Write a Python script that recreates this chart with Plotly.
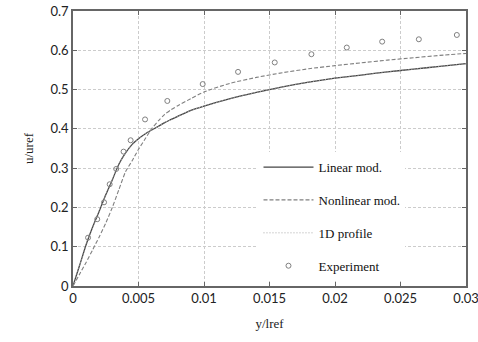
import plotly.graph_objects as go

x_model = [0, 0.0005, 0.001, 0.0015, 0.002, 0.0025, 0.003, 0.0035, 0.004, 0.0045,
           0.005, 0.0055, 0.006, 0.0065, 0.007, 0.0075, 0.008, 0.009, 0.01, 0.012,
           0.014, 0.016, 0.018, 0.02, 0.022, 0.024, 0.026, 0.028, 0.03]
linear_mod = [0, 0.052, 0.105, 0.15, 0.19, 0.232, 0.27, 0.31, 0.338, 0.36,
              0.375, 0.387, 0.397, 0.406, 0.416, 0.424, 0.432, 0.447, 0.458, 0.477,
              0.493, 0.507, 0.519, 0.529, 0.537, 0.545, 0.552, 0.559, 0.566]
nonlinear_mod = [0, 0.03, 0.06, 0.092, 0.125, 0.16, 0.2, 0.245, 0.29, 0.318,
                 0.348, 0.374, 0.40, 0.42, 0.437, 0.449, 0.459, 0.477, 0.494, 0.516,
                 0.531, 0.543, 0.553, 0.561, 0.568, 0.575, 0.581, 0.587, 0.592]
profile_1d = [0, 0.052, 0.104, 0.149, 0.19, 0.231, 0.27, 0.309, 0.338, 0.36,
              0.375, 0.387, 0.397, 0.406, 0.416, 0.424, 0.432, 0.447, 0.458, 0.477,
              0.493, 0.507, 0.519, 0.529, 0.537, 0.545, 0.552, 0.559, 0.566]
x_exp = [0.00115, 0.00185, 0.00237, 0.0028, 0.0033, 0.00386, 0.0044, 0.0055,
         0.0072, 0.0099, 0.0126, 0.0154, 0.0182, 0.0209, 0.0236, 0.0264, 0.0293]
u_exp = [0.123, 0.170, 0.213, 0.259, 0.298, 0.342, 0.371, 0.424,
         0.471, 0.514, 0.545, 0.569, 0.590, 0.607, 0.622, 0.628, 0.639]

x_ticks = [0, 0.005, 0.01, 0.015, 0.02, 0.025, 0.03]
x_tick_labels = ["0", "0.005", "0.01", "0.015", "0.02", "0.025", "0.03"]
y_ticks = [0, 0.1, 0.2, 0.3, 0.4, 0.5, 0.6, 0.7]
y_tick_labels = ["0", "0.1", "0.2", "0.3", "0.4", "0.5", "0.6", "0.7"]

fig = go.Figure()
fig.add_trace(go.Scatter(x=x_model, y=linear_mod, mode="lines", name="Linear mod.",
                         line=dict(color="#444444", width=1.3, shape="spline", smoothing=0.6),
                         legendgroup="a"))
fig.add_trace(go.Scatter(x=x_model, y=nonlinear_mod, mode="lines", name="Nonlinear mod.",
                         line=dict(color="#808080", width=1.1, dash="4px,2px", shape="spline", smoothing=0.6),
                         legendgroup="b"))
fig.add_trace(go.Scatter(x=x_model, y=profile_1d, mode="lines", name="1D profile",
                         line=dict(color="#aaaaaa", width=1, dash="1px,2px", shape="spline", smoothing=0.6),
                         legendgroup="c"))
fig.add_trace(go.Scatter(x=x_exp, y=u_exp, mode="markers", name="Experiment",
                         marker=dict(symbol="circle-open", size=5, color="#808080",
                                     line=dict(width=1)), legendgroup="d"))

axis_common = dict(showline=True, linecolor="#666666", linewidth=1.5, mirror="ticks",
                   ticks="inside", ticklen=4, tickcolor="#666666",
                   showgrid=True, gridcolor="#cccccc", griddash="3px,2px", gridwidth=1,
                   zeroline=False, automargin=False, ticklabeloverflow="allow",
                   tickfont=dict(family="Lato", size=13, color="#222222"))

fig.update_xaxes(range=[0, 0.03], tickvals=x_ticks, ticktext=x_tick_labels,
                 title=dict(text="y/lref", font=dict(family="Liberation Serif", size=13, color="#222222"),
                            standoff=14),
                 **axis_common)
fig.update_yaxes(range=[0, 0.7], tickvals=y_ticks, ticktext=y_tick_labels,
                 title=dict(text="u/uref", font=dict(family="Liberation Serif", size=13, color="#222222"),
                            standoff=14),
                 **axis_common)

fig.update_layout(
    width=478, height=342,
    margin=dict(l=73, r=12, t=11, b=56, autoexpand=False),
    paper_bgcolor="white", plot_bgcolor="white",
    showlegend=True,
    legend=dict(x=0.472, y=0.487, xanchor="left", yanchor="top",
                bgcolor="white", borderwidth=0,
                font=dict(family="Liberation Serif", size=13, color="#111111"),
                tracegroupgap=13, itemwidth=50),
)

fig.write_html("out.html")
